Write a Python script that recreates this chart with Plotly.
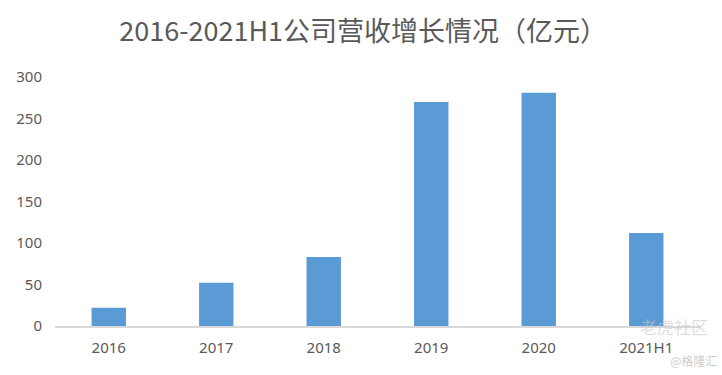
import plotly.graph_objects as go

categories = ["2016", "2017", "2018", "2019", "2020", "2021H1"]
revenue = [22, 52, 83, 270, 281, 112]
y_ticks = [0, 50, 100, 150, 200, 250, 300]

fig = go.Figure(go.Bar(
    x=categories, y=revenue,
    marker=dict(color="#5B9BD5", line=dict(width=0)),
    width=0.32,
))

fig.update_layout(
    width=722, height=375,
    margin=dict(l=55, r=22, t=77, b=49),
    paper_bgcolor="white", plot_bgcolor="white",
    showlegend=False,
    title=dict(
        text="2016-2021H1公司营收增长情况（亿元）",
        x=0.503, xanchor="center", y=0.915, yanchor="middle",
        font=dict(family="Noto Sans CJK SC, Noto Sans, sans-serif", size=27, color="#595959"),
    ),
    font=dict(family="Noto Sans, Noto Sans CJK SC, sans-serif", color="#595959"),
)
fig.update_xaxes(
    type="category", showgrid=False, showline=True, linecolor="#D9D9D9", linewidth=2,
    ticks="", ticklabelstandoff=7, tickfont=dict(size=15, color="#595959"),
)
fig.update_yaxes(
    range=[0, 300], tickvals=y_ticks, showgrid=False, zeroline=False, showline=False,
    ticks="", ticklabelstandoff=12, tickfont=dict(size=15, color="#595959"),
)
fig.add_annotation(text="老虎社区", xref="paper", yref="paper", x=1.015, y=0.055,
                   xanchor="right", yanchor="top", showarrow=False,
                   font=dict(family="Noto Sans CJK SC", size=17, color="rgba(200,200,200,0.6)"))
fig.add_annotation(text="@格隆汇", xref="paper", yref="paper", x=1.03, y=-0.18,
                   xanchor="right", yanchor="bottom", showarrow=False,
                   font=dict(family="Noto Sans CJK SC", size=12, color="rgba(170,170,170,0.6)"))

fig.write_html("out.html", config={"displayModeBar": False},
               post_script="document.body.style.margin='0';")
